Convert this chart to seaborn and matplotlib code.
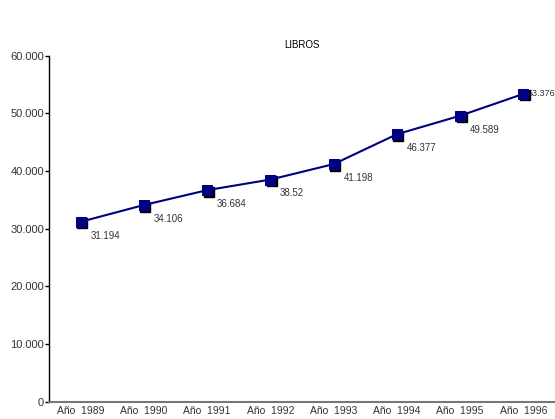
import pandas as pd
import seaborn as sns
import matplotlib
matplotlib.use('Agg')
import matplotlib.pyplot as plt
from matplotlib.transforms import offset_copy
from matplotlib.ticker import FuncFormatter

# datos
anios = ['Año  1989', 'Año  1990', 'Año  1991', 'Año  1992',
         'Año  1993', 'Año  1994', 'Año  1995', 'Año  1996']
libros = [31194, 34106, 36684, 38520, 41198, 46377, 49589, 53376]
etiquetas = ['31.194', '34.106', '36.684', '38.52', '41.198', '46.377', '49.589', '53.376']

df = pd.DataFrame({'anio': anios, 'libros': libros, 'pos': range(len(anios))})

sns.set_style('white')
plt.rcParams['font.family'] = ['Liberation Sans', 'DejaVu Sans']

fig = plt.figure(figsize=(5.55, 4.19), dpi=100)
ax = fig.add_axes([49 / 555, 1 - 401.7 / 419, 506 / 555, (401.7 - 55.7) / 419])

# sombra de los marcadores
sombra = offset_copy(ax.transData, fig=fig, x=1.5, y=-1.5, units='dots')
ax.plot(df['pos'], df['libros'], 's', color='black', markersize=7.5,
        transform=sombra, zorder=3)
sns.lineplot(data=df, x='pos', y='libros', color='#000080', linewidth=1.5,
             marker='s', markersize=7.5, markeredgecolor='#000080', ax=ax, zorder=4)

for i, (v, t) in enumerate(zip(libros, etiquetas)):
    if i == len(libros) - 1:
        off = (3, 0)
        fs = 6.5
    else:
        off = (7, -10)
        fs = 7
    ax.annotate(t, (i, v), xytext=off, textcoords='offset points',
                fontsize=fs, color='#333333', ha='left', va='center',
                annotation_clip=False, zorder=2)

ax.set_xlim(-0.5, 7.5)
ax.set_ylim(0, 60000)
ax.set_yticks(range(0, 60001, 10000))
ax.yaxis.set_major_formatter(FuncFormatter(lambda v, p: '0' if v == 0 else f'{int(v):,}'.replace(',', '.')))
ax.set_xticks(df['pos'])
ax.set_xticklabels(anios)
ax.set_xticks([x - 0.5 for x in range(9)], minor=True)
ax.tick_params(axis='x', which='major', length=0, labelsize=7.5, colors='#333333', pad=3)
ax.tick_params(axis='x', which='minor', length=3, width=1, color='#555555', direction='out')
ax.tick_params(axis='y', length=3, width=1, color='black', direction='out',
               labelsize=8, labelcolor='#333333', left=True, pad=0.5)
ax.set_xlabel('')
ax.set_ylabel('')

for s in ['top', 'right']:
    ax.spines[s].set_visible(False)
ax.spines['left'].set_color('black')
ax.spines['left'].set_linewidth(1)
ax.spines['bottom'].set_color('#777777')
ax.spines['bottom'].set_linewidth(1.5)

fig.text(302 / 555, 1 - 45 / 419, 'LIBROS', ha='center', va='center',
         fontsize=7, color='black')

fig.savefig('out.png', dpi=100)
